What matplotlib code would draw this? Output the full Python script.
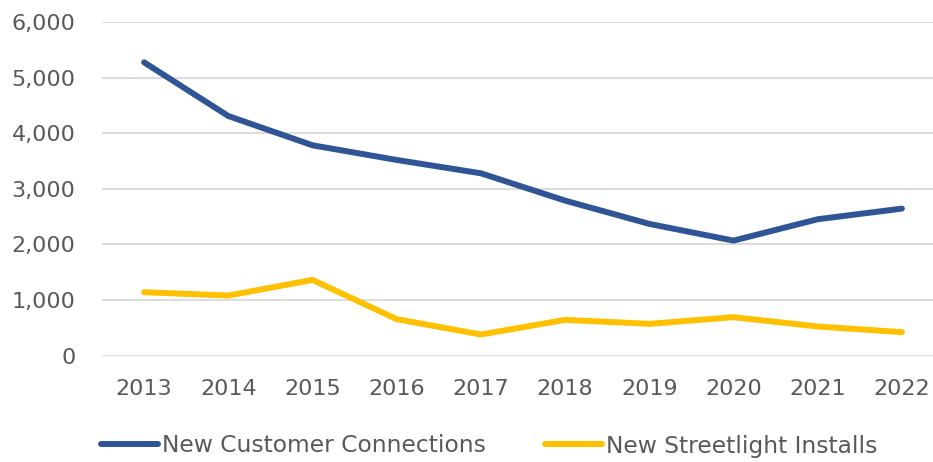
import matplotlib
matplotlib.use("Agg")
import matplotlib.pyplot as plt
from matplotlib.ticker import FuncFormatter

years = [2013, 2014, 2015, 2016, 2017, 2018, 2019, 2020, 2021, 2022]
customer_connections = [5277, 4311, 3784, 3520, 3280, 2788, 2369, 2068, 2453, 2644]
streetlight_installs = [1140, 1079, 1361, 654, 378, 642, 570, 690, 522, 421]
series_names = ["New Customer Connections", "New Streetlight Installs"]

BLUE = "#2F5597"
GOLD = "#FFC000"
TEXT = "#595959"
GRID = "#D9D9D9"

plt.rcParams["font.family"] = ["DejaVu Sans"]

fig = plt.figure(figsize=(9.33, 4.62), dpi=100)
ax = fig.add_axes([102 / 933, 0.2305, 842 / 933, 0.7215])

ax.plot(years, customer_connections, color=BLUE, lw=4.3, solid_capstyle="round",
        solid_joinstyle="round", label=series_names[0])
ax.plot(years, streetlight_installs, color=GOLD, lw=4.3, solid_capstyle="round",
        solid_joinstyle="round", label=series_names[1])

ax.set_xlim(2012.5, 2022.5)
ax.set_ylim(0, 6000)
ax.set_yticks(range(0, 6001, 1000))
ax.set_xticks(years)
ax.yaxis.set_major_formatter(FuncFormatter(lambda v, _: f"{int(v):,}"))
ax.grid(axis="y", color=GRID, lw=1.3)
ax.set_axisbelow(True)
for s in ax.spines.values():
    s.set_visible(False)
ax.tick_params(length=0, labelsize=16, colors=TEXT)
ax.tick_params(axis="y", pad=19)
ax.tick_params(axis="x", pad=17)

leg = fig.legend(loc="center left", bbox_to_anchor=(101 / 933, 1 - 446 / 462), ncol=2,
                 frameon=False, borderpad=0, borderaxespad=0, handlelength=2.45,
                 handletextpad=0.15, columnspacing=2.55, prop={"size": 16.8})
for t in leg.get_texts():
    t.set_color(TEXT)

fig.savefig("out.png", dpi=100)
